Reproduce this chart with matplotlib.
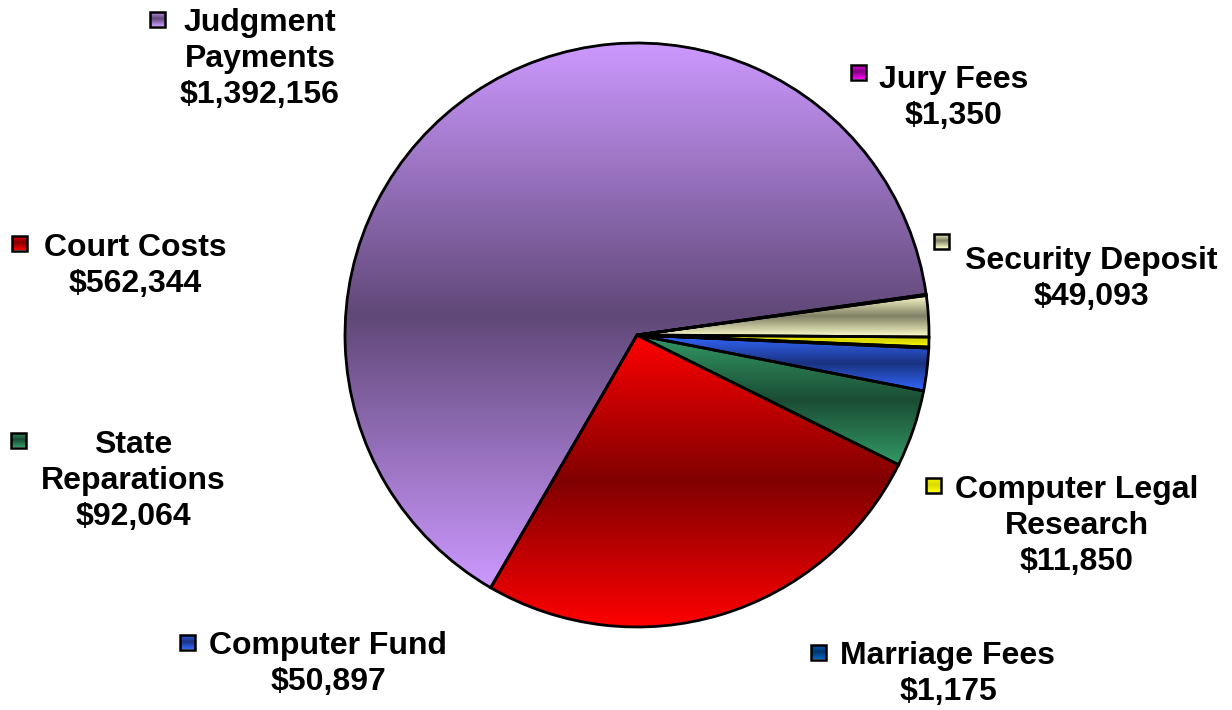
import numpy as np
import matplotlib
matplotlib.use("Agg")
import matplotlib.pyplot as plt
from matplotlib.colors import to_rgb
from matplotlib.patches import Rectangle

plt.rcParams['font.family'] = ['Liberation Sans', 'DejaVu Sans']

# data, in the order the slices run counterclockwise from 3 o'clock
labels = ['Security Deposit', 'Jury Fees', 'Judgment\nPayments', 'Court Costs',
          'State\nReparations', 'Computer Fund', 'Marriage Fees',
          'Computer Legal\nResearch']
values = [49093, 1350, 1392156, 562344, 92064, 50897, 1175, 11850]
light = ['#FFFFCC', '#FF00FF', '#CC99FF', '#FF0000',
         '#339966', '#3366FF', '#0066CC', '#FFFF00']
dark = ['#808066', '#800080', '#604878', '#800000',
        '#1A4D33', '#1A3380', '#003366', '#D8D800']

# label layout (pixels from top-left): text centre x, cap top of first line,
# legend-key centre
W, H = 1232, 710
text_xy = [(1091, 248), (954, 67), (260, 10), (135, 235),
           (133, 432), (328, 633), (948, 643), (1077, 477)]
key_xy = [(941, 241), (858, 72), (157, 19), (19, 243),
          (18, 440), (187, 642), (818, 652), (933, 485)]


def gradient(ax, patch, c_light, c_dark, extent, z):
    c1 = np.array(to_rgb(c_light))
    c0 = np.array(to_rgb(c_dark))
    t = np.abs(np.linspace(-1, 1, 256))[:, None]
    img = c0 + (c1 - c0) * t
    img = img[:, None, :].repeat(2, axis=1)
    im = ax.imshow(img, extent=extent, origin='lower', aspect='auto',
                   interpolation='bilinear', zorder=z)
    im.set_clip_path(patch)


fig = plt.figure(figsize=(W / 100, H / 100), dpi=100)
ax = fig.add_axes([0, 0, 1, 1])

wedges, _ = ax.pie(values, colors=light, startangle=-0.4, counterclock=True,
                   center=(637, H - 335), radius=292, frame=True,
                   wedgeprops=dict(edgecolor='black', linewidth=2))

for w, c1, c0 in zip(wedges, light, dark):
    bb = w.get_path().get_extents()
    gradient(ax, w, c1, c0, (bb.x0, bb.x1, bb.y0, bb.y1), 2)
    w.set_facecolor('none')
    w.set_zorder(3)

s = 15
for lab, val, c1, c0, (tx, ty), (kx, ky) in zip(labels, values, light, dark,
                                                  text_xy, key_xy):
    ax.text(tx, H - ty + 2, f"{lab}\n${val:,}", ha='center', va='top',
            fontsize=23, fontweight='bold', linespacing=1.27, zorder=5)
    r = Rectangle((kx - s / 2, H - ky - s / 2), s, s, facecolor='none',
                  edgecolor='black', linewidth=1.8, zorder=5)
    ax.add_patch(r)
    gradient(ax, r, c1, c0,
             (kx - s / 2, kx + s / 2, H - ky - s / 2, H - ky + s / 2), 4)

ax.set_xlim(0, W)
ax.set_ylim(0, H)
ax.set_aspect('auto')
ax.axis('off')

fig.savefig('out.png', dpi=100)
